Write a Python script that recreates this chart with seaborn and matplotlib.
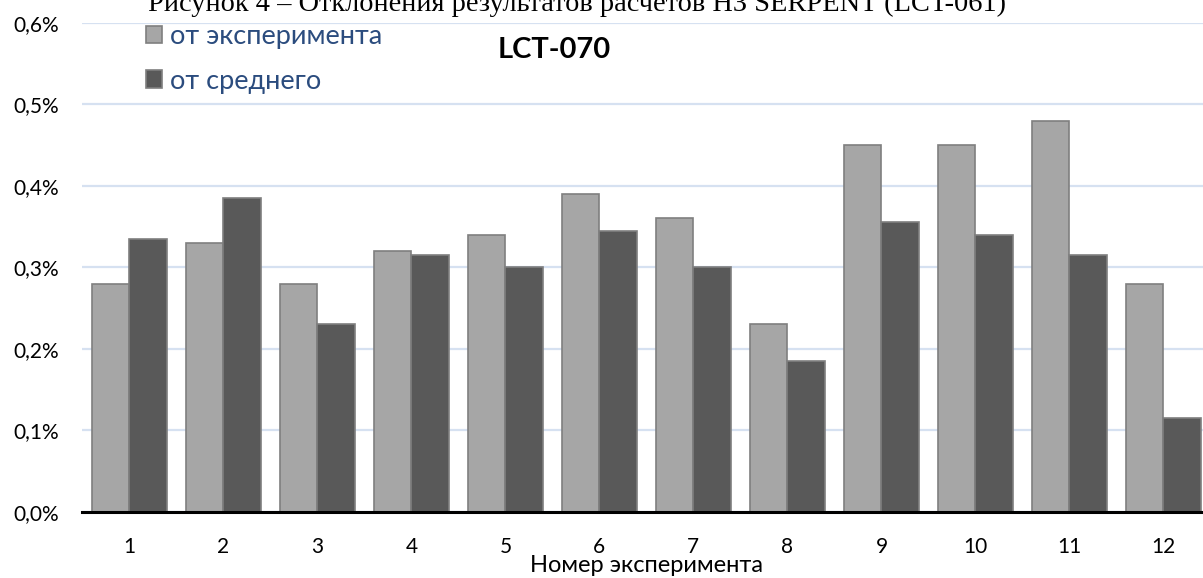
import matplotlib
matplotlib.use("Agg")
import matplotlib.pyplot as plt
from matplotlib.patches import Patch
from matplotlib.ticker import FuncFormatter, MultipleLocator
import pandas as pd
import seaborn as sns

# Experiment numbers and deviations (in percent)
experiments = ["1", "2", "3", "4", "5", "6", "7", "8", "9", "10", "11", "12"]
dev_experiment = [0.28, 0.33, 0.28, 0.32, 0.34, 0.39, 0.36, 0.23, 0.45, 0.45, 0.48, 0.28]
dev_mean = [0.335, 0.385, 0.23, 0.315, 0.30, 0.345, 0.30, 0.185, 0.355, 0.34, 0.315, 0.115]
series_names = ["от эксперимента", "от среднего"]

df = pd.DataFrame({
    "exp": experiments * 2,
    "value": dev_experiment + dev_mean,
    "series": [series_names[0]] * len(experiments) + [series_names[1]] * len(experiments),
})

sns.set_theme(style="white")
plt.rcParams["font.family"] = ["Lato", "DejaVu Sans"]

W, H = 1203, 578
fig = plt.figure(figsize=(W / 100, H / 100), dpi=100)
left, right, top, bottom = 82.3, 1210.5, 22.7, 511.7
ax = fig.add_axes([left / W, 1 - bottom / H, (right - left) / W, (bottom - top) / H])

colors = {series_names[0]: "#a6a6a6", series_names[1]: "#595959"}
sns.barplot(data=df, x="exp", y="value", hue="series", order=experiments,
            hue_order=series_names, palette=colors, errorbar=None, width=0.8,
            edgecolor="#7f7f7f", linewidth=1.2, ax=ax, legend=False, zorder=3)

ax.set_ylim(0, 0.6)
ax.set_xlim(-0.5, len(experiments) - 0.5)
ax.yaxis.set_major_locator(MultipleLocator(0.1))
ax.yaxis.set_major_formatter(FuncFormatter(lambda v, _: f"{v:.1f}%".replace(".", ",")))
ax.grid(axis="y", color="#d6e1f1", linewidth=1.6, zorder=0)
ax.grid(axis="x", visible=False)
ax.set_axisbelow(True)
for s in ("left", "right", "top"):
    ax.spines[s].set_visible(False)
ax.spines["bottom"].set_color("black")
ax.spines["bottom"].set_linewidth(2.2)
ax.spines["bottom"].set_zorder(5)
ax.tick_params(axis="both", length=0, labelsize=15, colors="black")
ax.tick_params(axis="x", pad=18)
ax.tick_params(axis="y", pad=17)
ax.set_ylabel("")
ax.set_xlabel("Номер эксперимента", fontsize=17, labelpad=-1.5, color="black")

# Chart title
fig.text(554 / W, 1 - 50 / H, "LCT-070", ha="center", va="center",
         fontsize=21, fontweight="bold", color="black")

# Figure caption from the surrounding document, partly cut at the top edge
fig.text(148 / W, 1 - 11 / H,
         "Рисунок 4 – Отклонения результатов расчетов НЗ SERPENT (LCT-061)",
         ha="left", va="baseline", fontsize=20.4, family="Liberation Serif", color="black")

handles = [Patch(facecolor=colors[n], edgecolor="#7f7f7f", linewidth=1.2) for n in series_names]
leg = fig.legend(handles, series_names, loc="upper left",
                 bbox_to_anchor=(146 / W, 1 - 24 / H), frameon=False,
                 fontsize=19.5, handlelength=0.6, handleheight=0.6,
                 handletextpad=0.3, labelspacing=0.72, borderaxespad=0,
                 borderpad=0)
for t in leg.get_texts():
    t.set_color("#2b4c7e")

fig.savefig("out.png", dpi=100)
